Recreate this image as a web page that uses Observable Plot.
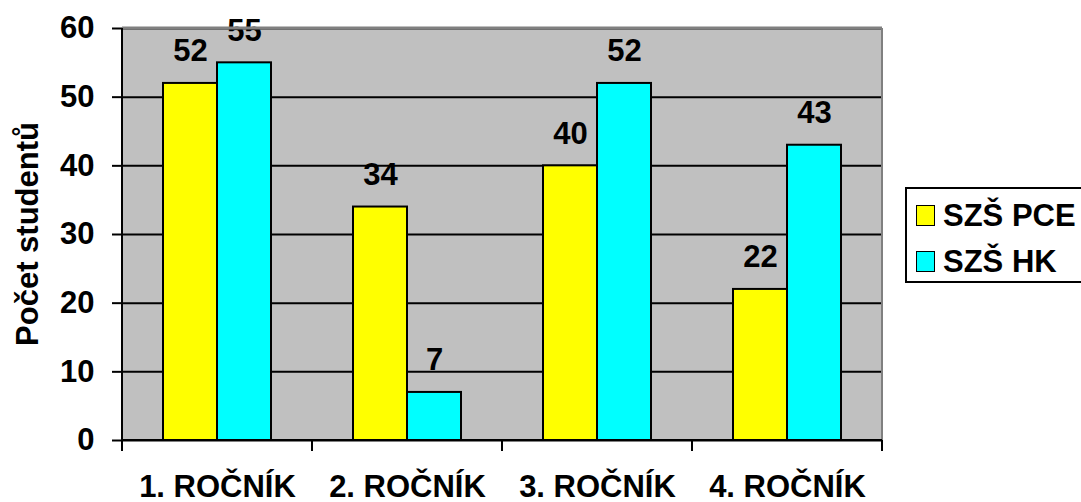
<!DOCTYPE html>
<html>
<head>
<meta charset="utf-8">
<script src="https://cdn.jsdelivr.net/npm/d3@7"></script>
<script src="https://cdn.jsdelivr.net/npm/@observablehq/plot@0.6"></script>
<style>
  html, body { margin: 0; padding: 0; background: #fff; }
  #wrap { position: relative; width: 1081px; height: 502px; font-family: "Liberation Sans", Arial, sans-serif; font-weight: bold; }
  #legend { position: absolute; left: 905px; top: 187px; width: 174px; height: 92px; border: 2px solid #000; border-right: none; background: #fff; }
  .item { position: absolute; left: 9px; display: flex; align-items: center; font-size: 31px; line-height: 31px; color: #000; white-space: nowrap; }
  .sw { width: 17px; height: 19px; border: 1.5px solid #000; margin-right: 8px; }
</style>
</head>
<body>
<div id="wrap"></div>
<script>
// Students per school year, two schools
const categories = ["1. ROČNÍK", "2. ROČNÍK", "3. ROČNÍK", "4. ROČNÍK"];
const series = ["SZŠ PCE", "SZŠ HK"];
const pce = [52, 34, 40, 22];
const hk = [55, 7, 52, 43];
const colors = ["#ffff00", "#00ffff"];
const yTicks = [0, 10, 20, 30, 40, 50, 60];
const yTitle = "Počet studentů";

const rows = categories.flatMap((c, i) => [
  {cat: c, s: series[0], v: pce[i]},
  {cat: c, s: series[1], v: hk[i]}
]);

const font = "Liberation Sans, Arial, sans-serif";
const fs = 31;

const chart = Plot.plot({
  width: 1081,
  height: 502,
  marginLeft: 120,
  marginRight: 198,
  marginTop: 28,
  marginBottom: 62,
  style: {fontFamily: font, fontWeight: "bold", fontSize: `${fs}px`, color: "#000", background: "#fff", overflow: "visible"},
  fx: {domain: categories, padding: 0, label: null, axis: null},
  x: {domain: series, paddingInner: 0, paddingOuter: 0.75, axis: null},
  y: {domain: [0, 60], label: null},
  color: {domain: series, range: colors},
  marks: [
    Plot.ruleY(yTicks, {stroke: "#000", strokeWidth: 2}),
    Plot.barY(rows, {fx: "cat", x: "s", y: "v", fill: "s", stroke: "#000", strokeWidth: 2}),
    Plot.text(rows, {fx: "cat", x: "s", y: "v", text: d => String(d.v), lineAnchor: "bottom", dy: -22, fontSize: fs, fontWeight: "bold", fill: "#000"}),
    Plot.axisY({ticks: yTicks, tickFormat: d => String(d), tickSize: 10, tickPadding: 18, stroke: "#000", strokeWidth: 2, strokeOpacity: 1, fontSize: fs, label: null}),
    Plot.axisFx({anchor: "bottom", tickSize: 0, tickPadding: 34, lineAnchor: "top", fontSize: fs, label: null})
  ]
});

document.getElementById("wrap").appendChild(chart);

// Plot area background, axis lines, category boundary ticks, border and the rotated y title
const svg = d3.select(chart);
const fx = chart.scale("fx");
const y = chart.scale("y");
const x0 = fx.apply(categories[0]);
const x1 = fx.apply(categories[categories.length - 1]) + fx.bandwidth;
const yBottom = y.apply(0);
const yTop = y.apply(60);

svg.insert("rect", ":first-child")
  .attr("x", x0).attr("y", yTop).attr("width", x1 - x0).attr("height", yBottom - yTop)
  .attr("fill", "#c0c0c0");

const g = svg.append("g");
g.append("line").attr("x1", x0).attr("x2", x1).attr("y1", yTop).attr("y2", yTop)
  .attr("stroke", "#808080").attr("stroke-width", 3);
g.append("line").attr("x1", x1).attr("x2", x1).attr("y1", yTop).attr("y2", yBottom)
  .attr("stroke", "#808080").attr("stroke-width", 2);
g.append("line").attr("x1", x0).attr("x2", x0).attr("y1", yTop).attr("y2", yBottom)
  .attr("stroke", "#000").attr("stroke-width", 2);
g.append("line").attr("x1", x0).attr("x2", x1).attr("y1", yBottom).attr("y2", yBottom)
  .attr("stroke", "#000").attr("stroke-width", 2);
[...categories.map(c => fx.apply(c)), x1].forEach(px => {
  g.append("line").attr("x1", px).attr("x2", px).attr("y1", yBottom).attr("y2", yBottom + 11)
    .attr("stroke", "#000").attr("stroke-width", 2);
});
g.append("text")
  .attr("transform", `translate(27,${(yTop + yBottom) / 2}) rotate(-90)`)
  .attr("text-anchor", "middle").attr("dy", "0.35em")
  .attr("font-family", font).attr("font-weight", "bold").attr("font-size", fs)
  .attr("fill", "#000")
  .text(yTitle);

// Legend
const legend = d3.select("#wrap").append("div").attr("id", "legend");
series.forEach((s, i) => {
  const item = legend.append("div").attr("class", "item").style("top", `${11 + i * 46}px`);
  item.append("div").attr("class", "sw").style("background", colors[i]);
  item.append("span").text(s);
});
</script>
</body>
</html>
